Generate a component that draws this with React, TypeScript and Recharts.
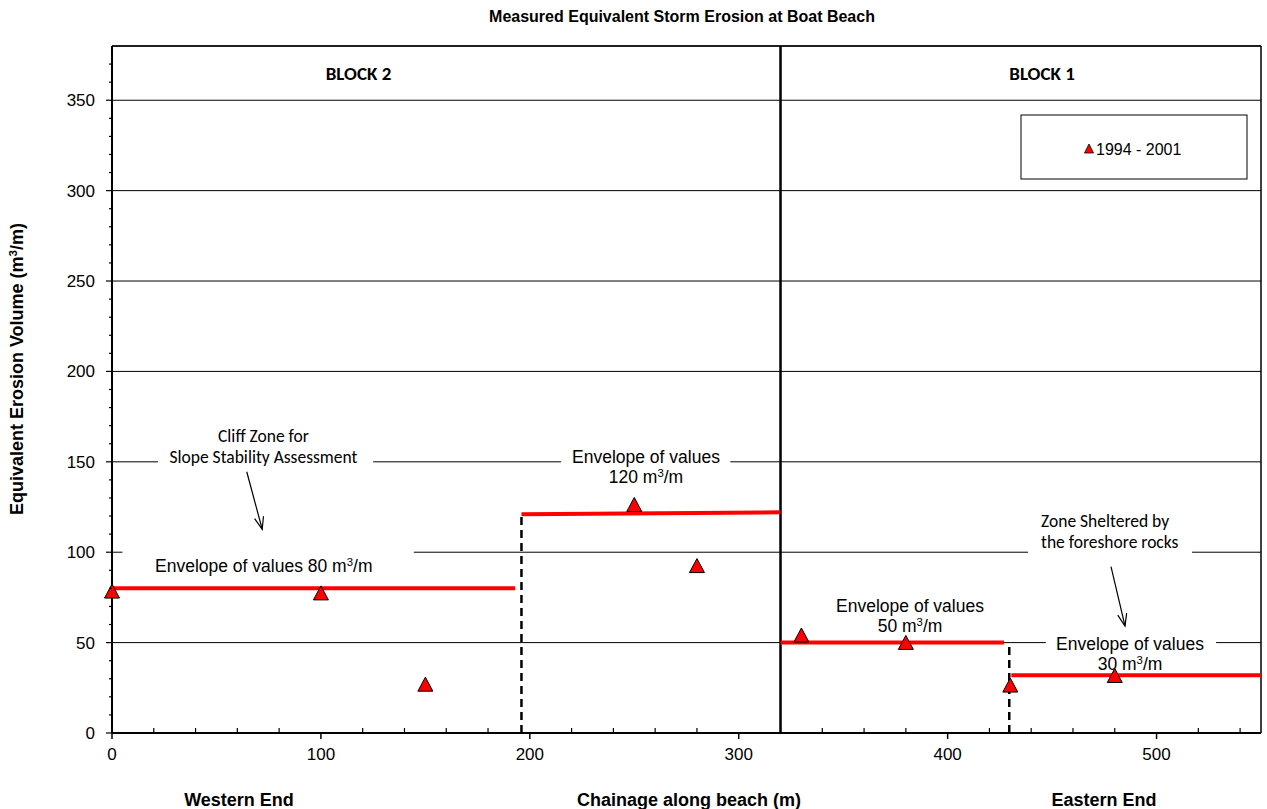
import React from 'react';
import {
  ComposedChart,
  XAxis,
  YAxis,
  CartesianGrid,
  Scatter,
  ReferenceLine,
  ReferenceArea,
  ReferenceDot,
  Customized,
} from 'recharts';

// ---------- data ----------
const chainage = [0, 100, 150, 250, 280, 330, 380, 430, 480];
const erosion = [78.5, 77.5, 27, 126.4, 92.6, 54.2, 50.1, 26.5, 31.8];
const points = chainage.map((x, i) => ({ x, y: erosion[i] }));

const envelopeStart = [0, 196, 320, 430.5];
const envelopeEnd = [193, 320, 427, 550];
const envelopeStartValue = [80, 121, 50, 32];
const envelopeEndValue = [80, 122.1, 50, 32];

const dividerX = [196, 429.5];
const dividerTop = [121, 50];
const blockBoundary = 320;

const xTicks = [0, 20, 40, 60, 80, 100, 120, 140, 160, 180, 200, 220, 240, 260, 280, 300, 320, 340, 360, 380, 400, 420, 440, 460, 480, 500, 520, 540];
const yTicks = [0, 10, 20, 30, 40, 50, 60, 70, 80, 90, 100, 110, 120, 130, 140, 150, 160, 170, 180, 190, 200, 210, 220, 230, 240, 250, 260, 270, 280, 290, 300, 310, 320, 330, 340, 350, 360, 370];
const yGridTicks = [50, 100, 150, 200, 250, 300, 350];

const X_MAX = 550;
const Y_MAX = 380;

// annotation texts (anchor in data units)
const annotations = [
  { x: 118, y: 361.2, lines: ['BLOCK 2'], anchor: 'middle', font: 'cal', bold: true },
  { x: 445.2, y: 361.2, lines: ['BLOCK 1'], anchor: 'middle', font: 'cal', bold: true },
  { x: 72.5, y: 161.0, lines: ['Cliff Zone for', 'Slope Stability  Assessment'], anchor: 'middle', font: 'cal', bold: false },
  { x: 444.7, y: 113.9, lines: ['Zone Sheltered by', 'the foreshore rocks'], anchor: 'start', font: 'cal', bold: false },
  { x: 20.6, y: 89.1, lines: ['Envelope of values 80 m³/m'], anchor: 'start', font: 'ari', bold: false },
  { x: 255.6, y: 149.3, lines: ['Envelope of values', '120 m³/m'], anchor: 'middle', font: 'ari', bold: false },
  { x: 382, y: 66.9, lines: ['Envelope of values', '50 m³/m'], anchor: 'middle', font: 'ari', bold: false },
  { x: 487.3, y: 45.9, lines: ['Envelope of values', '30 m³/m'], anchor: 'middle', font: 'ari', bold: false },
];

// white boxes that interrupt gridlines behind labels
const gapX1 = [22, 215, 5, 438.5, 447];
const gapX2 = [125, 296, 144.5, 517, 528.5];
const gapY1 = [146, 146, 96, 96, 46];
const gapY2 = [154, 154, 104, 104, 54];

// arrows
const arrowFromX = [64.5, 478.2];
const arrowFromY = [144.5, 92.0];
const arrowToX = [71.9, 484.9];
const arrowToY = [112.7, 59.2];

const ARIAL = '"Liberation Sans", Arial, sans-serif';
const CALIBRI = 'Carlito, Lato, "Open Sans", sans-serif';

// ---------- shapes ----------
const Triangle = (props: any) => {
  const { cx, cy } = props;
  if (cx == null || cy == null) return null;
  return (
    <polygon
      points={`${cx},${cy - 7} ${cx + 7.5},${cy + 7} ${cx - 7.5},${cy + 7}`}
      fill="#ff0000"
      stroke="#000"
      strokeWidth={1}
    />
  );
};

const XTick = (props: any) => {
  const { x, y, payload } = props;
  const v = payload.value;
  const major = v % 100 === 0;
  return (
    <g>
      {major ? (
        <line x1={x} x2={x} y1={y} y2={y + 6} stroke="#000" strokeWidth={1.5} />
      ) : (
        <line x1={x} x2={x} y1={y - 5} y2={y} stroke="#000" strokeWidth={1.2} />
      )}
      {major && (
        <text x={x} y={y + 27} textAnchor="middle" fontSize={17} fontFamily={ARIAL} fill="#000">
          {v}
        </text>
      )}
    </g>
  );
};

const YTick = (props: any) => {
  const { x, y, payload } = props;
  const v = payload.value;
  const major = v % 50 === 0;
  return (
    <g>
      <line x1={x - (major ? 6 : 3)} x2={x} y1={y} y2={y} stroke="#000" strokeWidth={1.2} />
      {major && (
        <text x={x - 17} y={y + 6} textAnchor="end" fontSize={17} fontFamily={ARIAL} fill="#000">
          {v}
        </text>
      )}
    </g>
  );
};

const renderSup = (s: string) => {
  const idx = s.indexOf('³');
  if (idx < 0) return s;
  return [
    s.slice(0, idx),
    <tspan key="sup" baselineShift="super" fontSize="0.65em">3</tspan>,
    s.slice(idx + 1),
  ];
};

const makeTextShape = (a: any) => (props: any) => {
  const { cx, cy } = props;
  if (cx == null || cy == null) return null;
  const isCal = a.font === 'cal';
  const fs = isCal ? (a.bold ? 19 : 17.5) : 17.5;
  const lh = isCal ? 21 : 20;
  return (
    <g>
      {a.lines.map((l: string, i: number) => (
        <text
          key={i}
          x={cx}
          y={cy + i * lh}
          textAnchor={a.anchor}
          fontSize={fs}
          fontWeight={a.bold ? 'bold' : 'normal'}
          fontFamily={isCal ? CALIBRI : ARIAL}
          fill="#000"
        >
          {renderSup(l)}
        </text>
      ))}
    </g>
  );
};

const ArrowShape = (p: any) => {
  const { x1, y1, x2, y2 } = p;
  if ([x1, y1, x2, y2].some((v) => v == null || isNaN(v))) return null;
  const ang = Math.atan2(y2 - y1, x2 - x1);
  const L = 13;
  const a = 0.36;
  const pts = `${x2 - L * Math.cos(ang - a)},${y2 - L * Math.sin(ang - a)} ${x2},${y2} ${x2 - L * Math.cos(ang + a)},${y2 - L * Math.sin(ang + a)}`;
  return (
    <g>
      <line x1={x1} y1={y1} x2={x2} y2={y2} stroke="#000" strokeWidth={1.2} />
      <polyline points={pts} fill="none" stroke="#000" strokeWidth={1.2} />
    </g>
  );
};

const Overlay = () => (
  <g>
    <text x={682} y={22} textAnchor="middle" fontSize={16} fontWeight="bold" fontFamily={ARIAL} fill="#000">
      Measured Equivalent Storm Erosion at Boat Beach
    </text>
    <text
      x={0}
      y={0}
      transform="translate(23,369) rotate(-90)"
      textAnchor="middle"
      fontSize={18}
      fontWeight="bold"
      fontFamily={ARIAL}
      fill="#000"
    >
      Equivalent Erosion Volume (m<tspan baselineShift="super" fontSize="0.65em">3</tspan>/m)
    </text>
    <text x={239} y={806} textAnchor="middle" fontSize={18} fontWeight="bold" fontFamily={ARIAL} fill="#000">
      Western End
    </text>
    <text x={689} y={806} textAnchor="middle" fontSize={18} fontWeight="bold" fontFamily={ARIAL} fill="#000">
      Chainage along beach (m)
    </text>
    <text x={1104} y={806} textAnchor="middle" fontSize={18} fontWeight="bold" fontFamily={ARIAL} fill="#000">
      Eastern End
    </text>
    {/* legend */}
    <rect x={1021} y={115} width={226} height={64} fill="#fff" stroke="#000" strokeWidth={1} />
    <polygon points="1089,144 1093.5,153 1084.5,153" fill="#ff0000" stroke="#000" strokeWidth={0.8} />
    <text x={1096} y={155} fontSize={16} fontFamily={ARIAL} fill="#000">
      1994 - 2001
    </text>
  </g>
);

export default function App() {
  return (
    <div style={{ position: 'absolute', left: 0, top: 0, width: 1267, height: 809, background: '#fff' }}>
      <ComposedChart width={1267} height={809} margin={{ top: 46, right: 6, bottom: 0, left: 0 }}>
        <XAxis
          dataKey="x"
          type="number"
          domain={[0, X_MAX]}
          ticks={xTicks}
          interval={0}
          height={76}
          tickSize={0}
          tickMargin={0}
          tickLine={false}
          tick={<XTick />}
          axisLine={{ stroke: '#000', strokeWidth: 2 }}
        />
        <YAxis
          dataKey="y"
          type="number"
          domain={[0, Y_MAX]}
          ticks={yTicks}
          interval={0}
          width={112}
          tickSize={0}
          tickMargin={0}
          tickLine={false}
          tick={<YTick />}
          axisLine={{ stroke: '#000', strokeWidth: 2 }}
        />
        <YAxis yAxisId="grid" type="number" domain={[0, Y_MAX]} ticks={yGridTicks} hide allowDataOverflow />
        <CartesianGrid yAxisId="grid" vertical={false} stroke="#000" strokeWidth={1} />

        {gapX1.map((x1, i) => (
          <ReferenceArea
            key={`gap${i}`}
            x1={x1}
            x2={gapX2[i]}
            y1={gapY1[i]}
            y2={gapY2[i]}
            fill="#fff"
            fillOpacity={1}
            stroke="none"
          />
        ))}

        <ReferenceLine y={Y_MAX} stroke="#000" strokeWidth={1.5} />
        <ReferenceLine x={X_MAX} stroke="#000" strokeWidth={1.5} />
        <ReferenceLine x={blockBoundary} stroke="#000" strokeWidth={2.5} />

        {dividerX.map((x, i) => (
          <ReferenceLine
            key={`div${i}`}
            segment={[{ x, y: 0 }, { x, y: dividerTop[i] }]}
            stroke="#000"
            strokeWidth={2.5}
            strokeDasharray="8 5"
          />
        ))}

        {envelopeStart.map((x, i) => (
          <ReferenceLine
            key={`env${i}`}
            segment={[{ x, y: envelopeStartValue[i] }, { x: envelopeEnd[i], y: envelopeEndValue[i] }]}
            stroke="#ff0000"
            strokeWidth={4}
          />
        ))}

        {arrowFromX.map((x, i) => (
          <ReferenceLine
            key={`arr${i}`}
            segment={[{ x, y: arrowFromY[i] }, { x: arrowToX[i], y: arrowToY[i] }]}
            stroke="#000"
            strokeWidth={1.2}
            shape={ArrowShape}
          />
        ))}

        {annotations.map((a, i) => (
          <ReferenceDot key={`ann${i}`} x={a.x} y={a.y} r={0} shape={makeTextShape(a)} />
        ))}

        <Scatter data={points} dataKey="y" fill="#ff0000" shape={<Triangle />} isAnimationActive={false} />

        <Customized component={Overlay} />
      </ComposedChart>
    </div>
  );
}
